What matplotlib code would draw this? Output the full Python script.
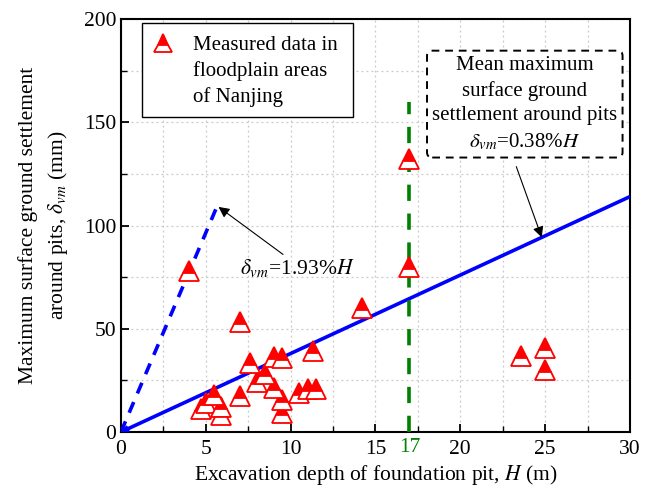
import matplotlib
matplotlib.use("Agg")
import matplotlib.pyplot as plt
from matplotlib.patches import Rectangle
from matplotlib.ticker import MultipleLocator

plt.rcParams['font.family'] = ['Liberation Serif', 'DejaVu Serif']
plt.rcParams['mathtext.fontset'] = 'stix'

# Measured excavation depth H (m) and max surface settlement (mm)
depth_m = [4.0, 4.7, 5.0, 5.5, 5.9, 5.9, 7.0, 7.0, 7.6, 8.0, 8.5, 9.0, 9.0,
           9.5, 9.5, 9.5, 10.5, 11.0, 11.5, 11.3, 14.2, 17.0, 17.0, 23.6,
           25.0, 25.0]
settle_mm = [78, 11, 14, 18, 12, 8, 17.5, 53.5, 33.5, 24, 28, 21.5, 36.5,
             36, 15.5, 9, 19, 21, 21, 39, 60, 132, 80, 37,
             40.5, 30]

# Fitted ratios delta_vm / H
ratio_mean = 0.38   # % of H
ratio_upper = 1.93  # % of H
upper_end_h = 5.6
ref_depth = 17
ref_top = 160

x_ticks = [0, 5, 10, 15, 20, 25, 30]
y_ticks = [0, 50, 100, 150, 200]

marker_style = dict(marker='^', fillstyle='top', markerfacecolor='#ff0000',
                    markerfacecoloralt='white', markeredgecolor='#ff0000',
                    markeredgewidth=1.3)

fig = plt.figure(figsize=(6.55, 4.88), dpi=100)
ax = fig.add_axes([0.1847, 0.1148, 0.7771, 0.8462])

ax.set_xlim(0, 30)
ax.set_ylim(0, 200)
ax.set_xticks(x_ticks)
ax.set_yticks(y_ticks)
ax.xaxis.set_minor_locator(MultipleLocator(2.5))
ax.yaxis.set_minor_locator(MultipleLocator(25))
ax.tick_params(which='major', direction='in', length=6, width=1.3, labelsize=15.5)
ax.tick_params(which='minor', direction='in', length=4, width=1.0)
ax.tick_params(axis='x', pad=6)
for s in ax.spines.values():
    s.set_linewidth(1.5)
ax.grid(True, which='both', color='#c8c8c8', linestyle=(0, (1.5, 2.5)), linewidth=0.9)
ax.set_axisbelow(True)

# Fitted lines
hx = [0, 30]
ax.plot(hx, [ratio_mean * 10 * h for h in hx], color='#0000ff', lw=2.6,
        solid_capstyle='butt', zorder=3)
ux = [0, upper_end_h]
ax.plot(ux, [ratio_upper * 10 * h for h in ux], color='#0000ff', lw=2.6,
        linestyle=(0, (3.2, 2.6)), zorder=3)
ax.annotate('', xy=(0, 0), xytext=(0.6, ratio_mean * 10 * 0.6),
            arrowprops=dict(arrowstyle='-|>', color='#0000ff', lw=1.5,
                            mutation_scale=9, shrinkA=0, shrinkB=0), zorder=3)

# Reference depth
ax.plot([ref_depth, ref_depth], [0, ref_top], color='#008000', lw=2.6,
        linestyle=(0, (4.5, 3.5)), zorder=3)
ax.text(ref_depth, -3.0, '17', color='#008000', fontsize=15.5,
        ha='center', va='top')

# Measured data
ax.plot(depth_m, settle_mm, linestyle='none', markersize=14, zorder=4,
        **marker_style)

# Legend box with the marker next to the first text line
ax.add_patch(Rectangle((0.0413, 0.7627), 0.4145, 0.2276, transform=ax.transAxes,
                       fc='white', ec='black', lw=1.0, zorder=6))
ax.plot([0.0825], [0.9419], transform=ax.transAxes, markersize=13,
        linestyle='none', zorder=7, clip_on=False, **marker_style)
ax.text(0.1415, 0.8724, 'Measured data in\nfloodplain areas\nof Nanjing',
        transform=ax.transAxes, fontsize=15, ha='left', va='center',
        linespacing=1.4, zorder=7)

# Annotations
ax.text(23.8, 158.8,
        'Mean maximum\nsurface ground\nsettlement around pits\n'
        r'$\delta_{vm}$=0.38%$H$',
        fontsize=15, ha='center', va='center', linespacing=1.4,
        bbox=dict(boxstyle='round,pad=0.25,rounding_size=0.25', fc='white',
                  ec='black', lw=1.4, linestyle=(0, (4, 3))), zorder=5)
ax.annotate('', xy=(24.8, ratio_mean * 10 * 24.8), xytext=(23.3, 128.5),
            arrowprops=dict(arrowstyle='-|>', color='black', lw=0.8,
                            mutation_scale=16, shrinkA=0, shrinkB=0))

ax.text(10.4, 79.5, r'$\delta_{vm}$=1.93%$H$', fontsize=15.5, ha='center',
        va='center')
ax.annotate('', xy=(5.75, 109), xytext=(9.55, 86),
            arrowprops=dict(arrowstyle='-|>', color='black', lw=0.8,
                            mutation_scale=16, shrinkA=0, shrinkB=0))

ax.set_xlabel('Excavation depth of foundation pit, $H$ (m)', fontsize=15.5,
              labelpad=3)
ax.set_ylabel('Maximum surface ground settlement\naround pits, $\\delta_{vm}$ (mm)',
              fontsize=15.5, labelpad=10, linespacing=1.45)

fig.savefig('out.png', dpi=100)
